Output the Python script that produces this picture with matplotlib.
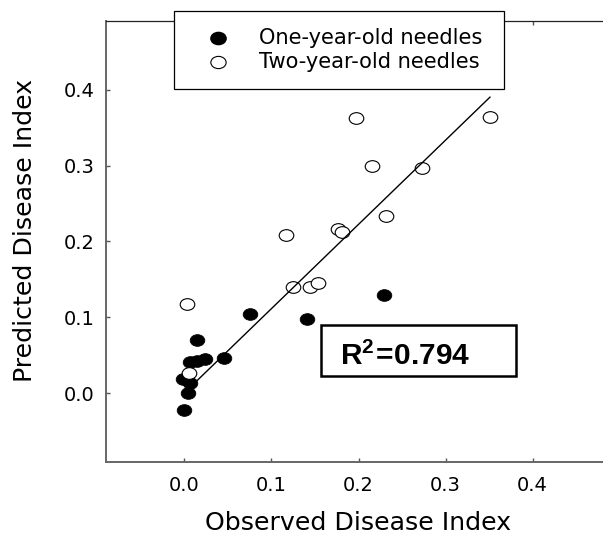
import matplotlib
matplotlib.use("Agg")
import matplotlib.pyplot as plt
from matplotlib.path import Path
from matplotlib.transforms import Affine2D
from matplotlib.patches import Rectangle
from matplotlib.lines import Line2D

# data
one_year_obs = [0.229, 0.141, 0.075, 0.046, 0.015, 0.006, 0.015, 0.024,
                -0.001, 0.006, 0.004, 0.000]
one_year_pred = [0.129, 0.098, 0.105, 0.047, 0.070, 0.041, 0.042, 0.045,
                 0.019, 0.013, 0.001, -0.022]
two_year_obs = [0.197, 0.351, 0.215, 0.273, 0.232, 0.117, 0.176, 0.181,
                0.125, 0.144, 0.154, 0.003, 0.005]
two_year_pred = [0.363, 0.364, 0.299, 0.297, 0.234, 0.209, 0.217, 0.213,
                 0.140, 0.140, 0.145, 0.118, 0.027]
fit_obs = [0.013, 0.351]
fit_pred = [0.015, 0.390]
r_squared = "0.794"
ticks = [0.0, 0.1, 0.2, 0.3, 0.4]
legend_labels = ["One-year-old needles", "Two-year-old needles"]

plt.rcParams["font.family"] = "DejaVu Sans"
plt.rcParams["mathtext.fontset"] = "custom"
plt.rcParams["mathtext.rm"] = "Liberation Sans"
plt.rcParams["mathtext.bf"] = "Liberation Sans:bold"

W, H = 603, 537
fig = plt.figure(figsize=(W / 100, H / 100), dpi=100)


def box(x0, y0, x1, y1):
    # pixel box (top-left origin) -> figure fraction rect
    return [x0 / W, 1 - y1 / H, (x1 - x0) / W, (y1 - y0) / H]


ax = fig.add_axes(box(106, 21.2, 611, 461.7))

# slightly squashed circle, like the reference
ell = Path.unit_circle().transformed(Affine2D().scale(1.0, 0.8))

ax.plot(one_year_obs, one_year_pred, linestyle="none", marker=ell,
        markersize=10.5, markerfacecolor="black", markeredgecolor="black",
        markeredgewidth=0.6, zorder=2)
ax.plot(two_year_obs, two_year_pred, linestyle="none", marker=ell,
        markersize=10.5, markerfacecolor="white", markeredgecolor="black",
        markeredgewidth=0.8, zorder=3)
ax.plot(fit_obs, fit_pred, color="black", linewidth=1.0, zorder=4)

ax.set_xlim(-0.09, 0.49)
ax.set_ylim(-0.09, 0.49)
ax.set_xticks(ticks)
ax.set_yticks(ticks)
ax.set_xticklabels([f"{t:.1f}" for t in ticks])
ax.set_yticklabels([f"{t:.1f}" for t in ticks])
ax.tick_params(direction="in", length=3, width=1, color="#555555",
               top=True, right=True, labelsize=14)
ax.tick_params(axis="x", pad=10.4)
ax.tick_params(axis="y", pad=8.2)

for side in ["left", "bottom"]:
    ax.spines[side].set_color("#666666")
    ax.spines[side].set_linewidth(1.4)
ax.spines["top"].set_color("#222222")
ax.spines["top"].set_linewidth(0.9)

ax.set_xlabel("Observed Disease Index", fontsize=18.2)
ax.xaxis.label.set_va("baseline")
ax.xaxis.set_label_coords(0.5, (461.7 - 530) / 440.5)
ax.set_ylabel("Predicted Disease Index", fontsize=18.2)
ax.yaxis.label.set_va("baseline")
ax.yaxis.set_label_coords((32 - 106) / 505, (461.7 - 230) / 440.5)

# legend box sitting over the top spine
fig.add_artist(Rectangle((174.3 / W, 1 - 88.5 / H), (504 - 174.3) / W,
                         (88.5 - 11) / H, transform=fig.transFigure,
                         facecolor="white", edgecolor="black",
                         linewidth=0.9, zorder=5))
fig.add_artist(Line2D([218.3 / W], [1 - 38.3 / H], transform=fig.transFigure,
                      linestyle="none", marker=ell, markersize=11,
                      markerfacecolor="black", markeredgecolor="black",
                      zorder=6))
fig.add_artist(Line2D([218.3 / W], [1 - 61.7 / H], transform=fig.transFigure,
                      linestyle="none", marker=ell, markersize=11,
                      markerfacecolor="white", markeredgecolor="black",
                      markeredgewidth=0.8, zorder=6))
fig.text(259 / W, 1 - 44.3 / H, legend_labels[0], fontsize=15.1,
         va="baseline", ha="left", zorder=7)
fig.text(259 / W, 1 - 67.7 / H, legend_labels[1], fontsize=15.1,
         va="baseline", ha="left", zorder=7)

# R^2 box
fig.add_artist(Rectangle((320.7 / W, 1 - 375.7 / H), (516 - 320.7) / W,
                         (375.7 - 325) / H, transform=fig.transFigure,
                         facecolor="white", edgecolor="black",
                         linewidth=1.8, zorder=5))
fig.text(340.5 / W, 1 - 365 / H, r"$\mathbf{R^{2}\!=\!" + r_squared + "}$",
         fontsize=21.5, va="baseline", ha="left", zorder=7)

fig.savefig("out.png", dpi=100)
